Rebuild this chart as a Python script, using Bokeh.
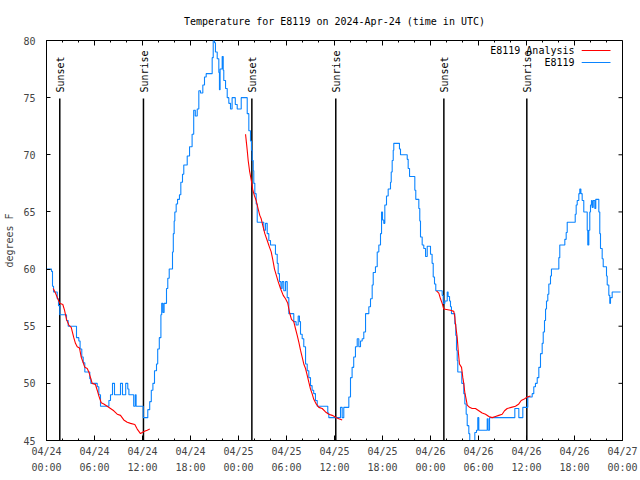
import math
from bokeh.plotting import figure
from bokeh.models import Range1d, FixedTicker
from bokeh.core.properties import value
from bokeh.embed import file_html
from bokeh.resources import INLINE

# ---------------- data ----------------
title_text = "Temperature for E8119 on 2024-Apr-24 (time in UTC)"
y_label = "degrees F"

x_tick_hours = [0, 6, 12, 18, 24, 30, 36, 42, 48, 54, 60, 66, 72]
x_tick_labels = ["04/24\n00:00", "04/24\n06:00", "04/24\n12:00", "04/24\n18:00",
                 "04/25\n00:00", "04/25\n06:00", "04/25\n12:00", "04/25\n18:00",
                 "04/26\n00:00", "04/26\n06:00", "04/26\n12:00", "04/26\n18:00",
                 "04/27\n00:00"]
x_minor_hours = list(range(0, 73, 2))
y_ticks = [45, 50, 55, 60, 65, 70, 75, 80]

# observed station temperature (hours since 04/24 00:00 UTC, deg F), step changes
obs_hours = [0.00, 0.62, 0.75, 0.88, 1.34, 1.50, 1.66, 2.50, 2.71, 3.75, 4.04, 4.20, 4.41, 4.59,
             4.79, 5.41, 5.54, 6.34, 6.54, 6.75, 7.80, 8.00, 8.25, 8.50, 9.25, 9.50, 9.90, 10.16,
             10.30, 10.90, 11.10, 11.20, 12.09, 12.66, 12.90, 13.10, 13.30, 13.50, 13.75, 13.90,
             14.10, 14.30, 14.40, 14.55, 14.70, 15.00, 15.16, 15.34, 15.75, 15.85, 15.96, 16.04,
             16.21, 16.38, 16.62, 16.79, 17.00, 17.16, 17.59, 17.88, 18.20, 18.40, 18.60, 18.84,
             19.04, 19.25, 19.54, 19.75, 19.96, 20.71, 20.84, 21.00, 21.12, 21.34, 21.54, 21.62,
             21.70, 21.96, 22.09, 22.16, 22.38, 22.59, 22.79, 23.00, 23.20, 23.60, 23.84, 24.34,
             25.09, 25.29, 25.50, 25.62, 25.71, 25.84, 25.91, 26.04, 26.21, 26.34, 27.16, 27.38,
             27.59, 27.79, 28.00, 28.62, 28.84, 28.96, 29.12, 29.30, 29.46, 29.66, 29.88, 30.09,
             30.29, 30.91, 31.20, 31.46, 31.62, 31.75, 31.96, 32.16, 32.38, 32.59, 32.79, 33.00,
             33.20, 33.40, 33.62, 33.84, 35.16, 35.29, 36.75, 36.96, 37.16, 37.79, 38.00, 38.20,
             38.40, 38.62, 38.84, 39.04, 39.25, 39.46, 39.66, 39.88, 40.29, 40.50, 40.71, 40.84,
             41.12, 41.34, 41.54, 41.75, 41.88, 42.00, 42.16, 42.29, 42.50, 42.71, 43.00, 43.09,
             43.21, 43.34, 43.41, 44.12, 44.25, 45.09, 45.21, 45.38, 46.04, 46.16, 46.54, 46.66,
             46.75, 46.96, 47.16, 47.38, 47.59, 48.00, 48.20, 48.34, 48.50, 48.66, 49.46, 49.59,
             49.80, 50.09, 50.20, 50.38, 50.50, 50.62, 51.04, 51.16, 51.25, 51.34, 51.41, 51.91,
             52.16, 52.29, 52.46, 52.59, 52.79, 52.91, 53.54, 53.75, 53.91, 54.04, 55.09, 55.20,
             55.38, 58.54, 59.04, 59.54, 60.16, 60.71, 60.91, 61.12, 61.34, 61.54, 61.75, 61.96,
             62.09, 62.25, 62.38, 62.50, 62.66, 62.79, 63.00, 63.12, 64.04, 64.16, 64.79, 64.96,
             65.09, 66.09, 66.21, 66.34, 66.54, 66.66, 66.80, 66.96, 67.16, 67.59, 67.66, 67.79,
             67.91, 68.00, 68.12, 68.20, 68.34, 68.54, 68.66, 69.04, 69.16, 69.25, 69.46, 69.59,
             70.00, 70.09, 70.29, 70.41, 70.50, 70.71, 71.75]
obs_temp = [60.0, 59.8, 58.5, 58.0, 57.4, 56.8, 56.0, 55.5, 55.0, 54.0, 53.7, 53.0, 52.3, 51.8,
            51.0, 50.4, 50.0, 49.7, 49.0, 48.0, 48.5, 49.0, 50.0, 49.0, 50.0, 49.0, 50.0, 49.5,
            49.0, 48.0, 49.0, 48.0, 47.0, 47.7, 48.4, 49.4, 50.0, 51.1, 51.7, 53.0,
            54.0, 56.0, 57.0, 56.2, 57.0, 58.3, 59.2, 60.0, 61.5, 63.1, 64.2, 65.0,
            65.7, 66.1, 66.5, 67.6, 68.3, 69.1, 69.9, 70.7, 71.8, 73.9, 73.4, 74.0,
            75.6, 75.4, 76.1, 76.8, 77.1, 78.5, 80.0, 79.8, 79.0, 78.4, 77.2, 75.7,
            77.5, 78.6, 77.4, 76.5, 75.8, 75.0, 74.5, 74.0, 75.0, 74.4, 74.0, 75.0,
            73.6, 72.1, 71.2, 70.4, 69.5, 68.6, 67.5, 66.6, 65.7, 64.1, 63.4, 64.0,
            63.1, 62.5, 62.1, 61.3, 60.5, 59.6, 58.9, 58.3, 58.9, 58.1, 58.9, 57.5,
            56.1, 55.4, 55.1, 55.9, 55.4, 54.3, 53.9, 53.2, 51.7, 51.1, 50.5, 49.8,
            49.4, 49.1, 48.5, 48.0, 47.4, 47.0, 47.9, 47.0, 47.9, 48.8, 50.5, 51.4,
            52.3, 53.2, 53.9, 53.2, 53.7, 53.9, 54.5, 56.1, 56.7, 57.4, 58.6, 59.7,
            60.2, 61.5, 62.1, 63.1, 65.0, 64.3, 64.0, 65.6, 66.4, 67.0, 67.6, 68.5,
            69.5, 70.4, 71.0, 70.5, 70.0, 69.6, 68.8, 68.1, 66.9, 66.1, 65.3, 64.2,
            62.8, 62.1, 61.8, 61.1, 62.0, 61.3, 60.5, 59.3, 58.7, 58.1, 57.7, 57.0,
            57.2, 58.0, 57.6, 57.2, 56.7, 56.1, 55.2, 54.2, 52.9, 52.0, 51.0, 50.0,
            49.1, 48.2, 47.3, 46.3, 45.6, 44.5, 45.7, 45.9, 47.0, 45.9, 46.9, 45.9,
            47.0, 47.8, 47.0, 47.9, 48.8, 49.1, 49.7, 50.0, 50.5, 51.4, 52.6, 53.5,
            54.5, 55.5, 56.5, 57.2, 57.8, 58.7, 59.4, 60.0, 61.0, 62.1, 62.6, 63.2,
            64.1, 64.8, 65.6, 66.0, 66.6, 67.0, 66.6, 66.0, 65.0, 63.4, 62.1, 63.4,
            65.0, 65.6, 66.0, 65.4, 66.0, 65.3, 66.1, 65.0, 63.1, 61.8, 60.9, 60.2,
            59.4, 58.6, 57.7, 57.0, 57.5, 58.0, 58.0]

# analysis (three night-time segments)
ana1_hours = [0.84, 1.12, 1.41, 1.66, 2.04, 2.25, 2.50, 2.79, 3.09, 3.41, 3.62, 3.84, 4.12, 4.34,
              4.59, 4.79, 5.09, 5.29, 5.50, 5.71, 6.12, 6.34, 6.54, 6.84, 7.16, 7.59, 8.00, 8.41,
              8.84, 9.25, 9.66, 10.09, 10.50, 11.04, 11.34, 11.75, 11.96, 12.25, 12.59, 12.91]
ana1_temp = [58.3, 57.9, 57.4, 57.0, 56.9, 56.4, 55.6, 55.1, 54.9, 54.0, 53.5, 53.2, 53.1, 52.3,
             51.8, 51.4, 51.3, 51.0, 50.5, 50.0, 49.9, 49.4, 48.9, 48.3, 48.2, 48.0, 47.8, 47.6,
             47.3, 47.2, 46.8, 46.6, 46.5, 46.4, 46.0, 45.6, 45.7, 45.8, 45.9, 46.0]
ana2_hours = [24.88, 25.00, 25.09, 25.21, 25.38, 25.59, 25.79, 26.00, 26.21, 26.41, 26.66, 26.84,
              27.04, 27.29, 27.59, 27.88, 28.09, 28.29, 28.50, 28.75, 28.96, 29.25, 29.59, 29.88,
              30.16, 30.38, 30.62, 30.91, 31.12, 31.34, 31.54, 31.75, 31.96, 32.16, 32.38, 32.59,
              32.79, 33.00, 33.20, 33.41, 33.71, 34.04, 34.46, 34.88, 35.29, 35.71, 36.25, 36.54,
              36.96]
ana2_temp = [71.8, 71.0, 70.4, 69.5, 68.6, 67.8, 66.9, 66.4, 66.0, 65.4, 64.7, 64.4,
             63.8, 63.1, 62.5, 61.9, 61.5, 60.8, 60.0, 59.4, 58.9, 58.3, 57.7, 57.4,
             57.0, 56.2, 55.6, 55.4, 54.8, 54.2, 53.6, 52.9, 52.3, 51.7, 51.3, 50.7,
             50.1, 49.5, 49.1, 48.6, 48.2, 47.9, 47.8, 47.5, 47.3, 47.2, 47.0, 46.9,
             46.8]
ana3_hours = [48.75, 49.04, 49.25, 49.46, 49.66, 50.50, 50.91, 51.04, 51.12, 51.34, 51.46, 51.62,
              51.88, 52.04, 52.16, 52.29, 52.46, 52.59, 52.88, 53.21, 53.62, 54.04, 54.46, 54.88,
              55.29, 55.71, 56.12, 56.54, 56.96, 57.25, 57.59, 58.09, 58.62, 59.04, 59.34, 59.66,
              60.09, 60.50]
ana3_temp = [58.1, 57.9, 57.4, 57.0, 56.5, 56.4, 56.3, 55.8, 55.2, 54.0, 52.9, 51.7,
             51.4, 50.5, 50.0, 49.2, 48.6, 48.1, 47.9, 47.8, 47.8, 47.6, 47.4, 47.3,
             47.1, 47.0, 47.1, 47.2, 47.3, 47.6, 47.8, 47.9, 48.0, 48.2, 48.5, 48.6,
             48.8, 48.9]

sunset_hours = [1.66, 25.67, 49.67]
sunrise_hours = [12.12, 36.16, 60.04]

series_names = ["E8119 Analysis", "E8119"]

# ---------------- style ----------------
FONT = "DejaVu Sans Mono"
FS = "10px"
BLUE = "#0a84ff"
RED = "#ff0000"
X0, X1 = 0, 72
Y0, Y1 = 45, 80
LINE_TOP_FRAC = 0.855
LABEL_FRAC = 0.87
PX_PER_H = 8.0          # frame 576 px / 72 h
PX_PER_DEG = 400 / 35.0  # frame 400 px / 35 deg

p = figure(width=640, height=480, output_backend="svg", toolbar_location=None,
           x_range=Range1d(X0, X1), y_range=Range1d(Y0, Y1),
           min_border_left=46, min_border_right=18, min_border_top=40, min_border_bottom=40,
           title=title_text)
p.background_fill_color = "white"
p.border_fill_color = "white"
p.outline_line_color = "black"
p.outline_line_width = 1
p.grid.visible = False

p.title.align = "center"
p.title.text_font = FONT
p.title.text_font_size = FS
p.title.text_font_style = "normal"
p.title.text_color = "black"
p.title.standoff = 27

xt = FixedTicker(ticks=x_tick_hours, minor_ticks=x_minor_hours)
yt = FixedTicker(ticks=y_ticks, minor_ticks=[])

xa = p.xaxis[0]
xa.ticker = xt
xa.major_label_overrides = {t: lab for t, lab in zip(x_tick_hours, x_tick_labels)}
xa.major_label_text_font = FONT
xa.major_label_text_font_size = FS
xa.major_label_text_line_height = 1.5
xa.major_label_standoff = 5
xa.major_tick_in = 5
xa.major_tick_out = 0
xa.minor_tick_in = 2
xa.minor_tick_out = 0
xa.axis_line_color = "black"

ya = p.yaxis[0]
ya.ticker = yt
ya.major_label_text_font = FONT
ya.major_label_text_font_size = FS
ya.major_label_standoff = 11
ya.major_tick_in = 4
ya.major_tick_out = 0
ya.minor_tick_in = 0
ya.minor_tick_out = 0
ya.axis_label = y_label
ya.axis_label_text_font = FONT
ya.axis_label_text_font_size = FS
ya.axis_label_text_font_style = "normal"
ya.axis_label_standoff = 5

# mirrored ticks on top and right borders (gnuplot style)
maj_len = 5 / PX_PER_DEG
min_len = 2 / PX_PER_DEG
p.segment(x0=x_tick_hours, x1=x_tick_hours, y0=[Y1] * len(x_tick_hours),
          y1=[Y1 - maj_len] * len(x_tick_hours), line_color="black", line_width=1)
p.segment(x0=x_minor_hours, x1=x_minor_hours, y0=[Y1] * len(x_minor_hours),
          y1=[Y1 - min_len] * len(x_minor_hours), line_color="black", line_width=1)
p.segment(x0=[X1] * len(y_ticks), x1=[X1 - 4 / PX_PER_H] * len(y_ticks), y0=y_ticks, y1=y_ticks,
          line_color="black", line_width=1)

# sunrise / sunset markers
line_top = Y0 + LINE_TOP_FRAC * (Y1 - Y0)
label_y = Y0 + LABEL_FRAC * (Y1 - Y0)
ev_x = sunset_hours + sunrise_hours
ev_txt = ["Sunset"] * len(sunset_hours) + ["Sunrise"] * len(sunrise_hours)
p.segment(x0=ev_x, x1=ev_x, y0=[Y0] * len(ev_x), y1=[line_top] * len(ev_x),
          line_color="black", line_width=1.5)
p.text(x=[x + 0.1 for x in ev_x], y=[label_y] * len(ev_x), text=ev_txt, angle=math.pi / 2,
       text_align="left", text_baseline="middle", text_font=value(FONT),
       text_font_size=FS, text_color="black")

# data lines
p.step(obs_hours, obs_temp, mode="after", line_color=BLUE, line_width=1.1)
for hh, tt in [(ana1_hours, ana1_temp), (ana2_hours, ana2_temp), (ana3_hours, ana3_temp)]:
    p.line(hh, tt, line_color=RED, line_width=1.1)

# legend (gnuplot style: text then sample, top right)
leg_text_x = 66.0
leg_line_x0, leg_line_x1 = 66.9, 70.5
leg_y = [Y1 - 10 / PX_PER_DEG, Y1 - 22 / PX_PER_DEG]
p.text(x=[leg_text_x] * 2, y=leg_y, text=series_names, text_align="right",
       text_baseline="middle", text_font=value(FONT), text_font_size=FS, text_color="black")
p.segment(x0=[leg_line_x0], x1=[leg_line_x1], y0=[leg_y[0]], y1=[leg_y[0]],
          line_color=RED, line_width=1.2)
p.segment(x0=[leg_line_x0], x1=[leg_line_x1], y0=[leg_y[1]], y1=[leg_y[1]],
          line_color=BLUE, line_width=1.2)

open("out.html", "w").write(file_html(p, INLINE))
